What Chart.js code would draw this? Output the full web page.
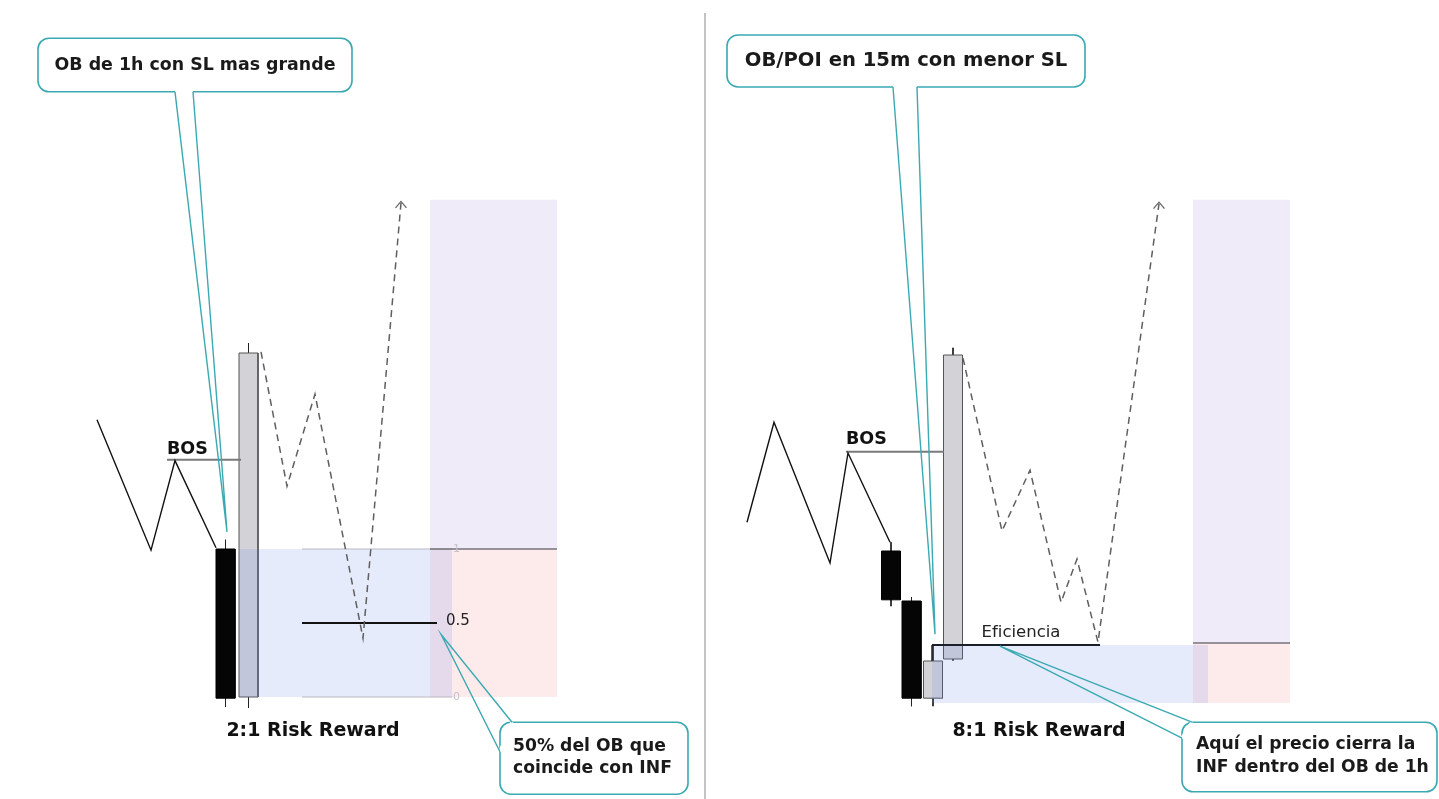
<!DOCTYPE html>
<html lang="es">
<head>
  <meta charset="UTF-8">
  <title>OB 1h vs OB 15m - Risk Reward</title>
  <script src="https://cdn.jsdelivr.net/npm/chart.js"></script>
  <style>
    html, body { margin: 0; padding: 0; background: #fff; }
    #wrap { width: 1439px; height: 799px; position: relative; }
  </style>
</head>
<body>
  <div id="wrap"><canvas id="chart"></canvas></div>

  <script>
    // eje x = tiempo (velas), eje y = precio

    // --- panel izquierdo: OB de 1h ---
    const leftSwingX = [9.7, 15.1, 17.5, 21.6];
    const leftSwingY = [47.4, 31.1, 42.3, 31.4];
    const leftBosX = [16.7, 24.1];
    const leftBosY = 42.4;

    const leftCandleX = [22.55, 24.85];
    const leftOpen  = [31.25, 12.75];
    const leftHigh  = [32.4, 57.0];
    const leftLow   = [11.5, 11.4];
    const leftClose = [12.6, 55.75];

    const leftZoneX = [23.9, 45.2];        // OB de 1h
    const leftZoneY = [31.25, 12.75];
    const leftTradeX = [43.0, 55.7];       // objetivo / entrada / stop
    const leftTradeY = [74.9, 31.25, 12.75];
    const leftFibX = [30.2, 45.2];
    const fibLevels = [1, 0.5, 0];

    const leftPathX = [26.1, 28.7, 31.5, 36.3, 40.1];
    const leftPathY = [55.9, 39.1, 50.6, 20.1, 74.5];

    // --- panel derecho: OB/POI de 15m ---
    const rightSwingX = [74.7, 77.4, 83.0, 84.8, 89.0];
    const rightSwingY = [34.6, 47.1, 29.5, 43.25, 32.1];
    const rightBosX = [84.6, 94.4];
    const rightBosY = 43.4;

    const rightCandleX = [89.1, 91.15, 93.3, 95.3];
    const rightOpen  = [31.0, 24.75, 12.6, 17.5];
    const rightHigh  = [32.1, 25.25, 19.25, 56.4];
    const rightLow   = [24.1, 11.6, 11.6, 17.3];
    const rightClose = [24.9, 12.6, 17.25, 55.5];

    const rightZoneX = [93.2, 120.8];
    const rightZoneY = [19.25, 12.0];
    const rightTradeX = [119.3, 129.0];
    const rightTradeY = [74.9, 19.5, 12.0];
    const efficiencyX = [93.2, 110.0];
    const efficiencyY = 19.25;

    const rightPathX = [96.3, 100.2, 103.0, 106.1, 107.7, 109.8, 115.9];
    const rightPathY = [55.1, 33.5, 41.1, 24.6, 30.0, 19.6, 74.4];

    const dividerX = 70.5;
    const dividerY = [98.25, 0];

    // --- textos ---
    const titles = ['OB de 1h con SL mas grande', 'OB/POI en 15m con menor SL'];
    const notesText = [['50% del OB que', 'coincide con INF'], ['Aquí el precio cierra la', 'INF dentro del OB de 1h']];
    const rrLabels = ['2:1 Risk Reward', '8:1 Risk Reward'];

    const TEAL = '#3aa9b2';
    const FONT = '"DejaVu Sans", Verdana, sans-serif';

    const datasets = [];
    function poly(xs, ys, opts) {
      datasets.push(Object.assign({
        data: xs.map((x, i) => ({ x: x, y: ys[i] })),
        borderColor: '#000',
        borderWidth: 1,
        pointRadius: 0,
        tension: 0,
        fill: false
      }, opts));
    }
    function box(xs, top, bottom, color) {
      poly(xs, [top, top], { borderWidth: 0, borderColor: 'rgba(0,0,0,0)', backgroundColor: color, fill: { value: bottom } });
    }
    function candles(xs, open, high, low, close) {
      xs.forEach((x, i) => {
        const bull = close[i] > open[i];
        const top = Math.max(open[i], close[i]);
        const bot = Math.min(open[i], close[i]);
        const w = 0.95;
        poly([x, x], [high[i], low[i]], { borderColor: '#222', borderWidth: 1 });
        box([x - w, x + w], top, bot, bull ? '#d3d3d7' : '#050505');
        poly([x - w, x - w, x + w, x + w, x - w], [bot, top, top, bot, bot],
          { borderColor: bull ? '#555' : '#000', borderWidth: 1 });
      });
    }

    // orden de pintado: primero el fondo
    poly([dividerX, dividerX], dividerY, { borderColor: '#b0b0b0', borderWidth: 1.5 });

    box(leftTradeX, leftTradeY[0], leftTradeY[1], 'rgba(150,110,210,0.14)');
    box(leftTradeX, leftTradeY[1], leftTradeY[2], 'rgba(240,100,100,0.13)');
    box(rightTradeX, rightTradeY[0], rightTradeY[1], 'rgba(150,110,210,0.14)');
    box(rightTradeX, rightTradeY[1], rightTradeY[2], 'rgba(240,100,100,0.13)');

    candles(leftCandleX, leftOpen, leftHigh, leftLow, leftClose);
    candles(rightCandleX, rightOpen, rightHigh, rightLow, rightClose);

    box(leftZoneX, leftZoneY[0], leftZoneY[1], 'rgba(100,130,235,0.16)');
    box(rightZoneX, rightZoneY[0], rightZoneY[1], 'rgba(100,130,235,0.16)');

    // fibonacci sobre el OB de 1h
    fibLevels.forEach(lv => {
      const p = leftZoneY[1] + lv * (leftZoneY[0] - leftZoneY[1]);
      if (lv === 0.5) {
        poly([leftFibX[0], 43.7], [p, p], { borderColor: '#111', borderWidth: 2 });
      } else {
        poly(leftFibX, [p, p], { borderColor: '#b8b8c0', borderWidth: 1 });
      }
    });

    poly(leftTradeX, [leftTradeY[1], leftTradeY[1]], { borderColor: '#77737c', borderWidth: 1.5 });
    poly(rightTradeX, [rightTradeY[1], rightTradeY[1]], { borderColor: '#77737c', borderWidth: 1.5 });

    poly(leftBosX, [leftBosY, leftBosY], { borderColor: '#7a7a7a', borderWidth: 2 });
    poly(rightBosX, [rightBosY, rightBosY], { borderColor: '#7a7a7a', borderWidth: 2 });

    poly(leftSwingX, leftSwingY, { borderColor: '#111', borderWidth: 1.4 });
    poly(rightSwingX, rightSwingY, { borderColor: '#111', borderWidth: 1.4 });

    poly([efficiencyX[0], efficiencyX[0]], [rightClose[2], efficiencyY], { borderColor: '#222', borderWidth: 1.5 });
    poly(efficiencyX, [efficiencyY, efficiencyY], { borderColor: '#1b1f2a', borderWidth: 2 });

    [[leftPathX, leftPathY], [rightPathX, rightPathY]].forEach(([xs, ys]) => {
      poly(xs, ys, { borderColor: '#5f5f5f', borderWidth: 1.5, borderDash: [7, 5] });
      const ax = xs[xs.length - 1], ay = ys[ys.length - 1] + 0.2;
      poly([ax - 0.55, ax, ax + 0.55], [ay - 0.8, ay, ay - 0.8], { borderColor: '#666', borderWidth: 1.3 });
    });

    datasets.forEach((d, i) => { d.order = datasets.length - i; });

    // textos y globos
    const labels = [
      { text: 'BOS', x: 16.7, y: 43.75, font: 'bold 17.5px ' + FONT, align: 'left' },
      { text: 'BOS', x: 84.6, y: 44.9, font: 'bold 17.5px ' + FONT, align: 'left' },
      { text: '0.5', x: 44.6, y: 22.25, font: '15px ' + FONT, align: 'left', color: '#222' },
      { text: '1', x: 45.3, y: 31.25, font: '11px ' + FONT, align: 'left', color: '#c4c0cc' },
      { text: '0', x: 45.3, y: 12.75, font: '11px ' + FONT, align: 'left', color: '#c4c0cc' },
      { text: 'Eficiencia', x: 102.1, y: 20.8, font: '16.5px ' + FONT, align: 'center', color: '#222' },
      { text: rrLabels[0], x: 31.3, y: 8.5, font: 'bold 19px ' + FONT, align: 'center' },
      { text: rrLabels[1], x: 103.9, y: 8.5, font: 'bold 19px ' + FONT, align: 'center' }
    ];

    const callouts = [
      { lines: [titles[0]], size: 17.4, box: [3.8, 35.2, 95.1, 88.4], tip: [22.7, 33.4], base: [[17.5, 88.4], [19.3, 88.4]], align: 'center', tx: 19.5, ty: [91.7] },
      { lines: [titles[1]], size: 19.6, box: [72.7, 108.5, 95.5, 89.0], tip: [93.5, 20.6], base: [[89.3, 89.0], [91.7, 89.0]], align: 'center', tx: 90.6, ty: [92.25] },
      { lines: notesText[0], size: 17.2, box: [50.0, 68.8, 9.6, 0.6], tip: [44.1, 20.6], base: [[50.0, 5.9], [51.2, 9.6]], align: 'left', tx: 51.3, ty: [6.5, 3.75] },
      { lines: notesText[1], size: 17.2, box: [118.2, 143.7, 9.6, 0.9], tip: [100.0, 19.1], base: [[118.2, 7.6], [119.2, 9.6]], align: 'left', tx: 119.6, ty: [6.75, 3.9] }
    ];

    function roundRect(ctx, x, y, w, h, r) {
      ctx.beginPath();
      ctx.moveTo(x + r, y);
      ctx.lineTo(x + w - r, y);
      ctx.arcTo(x + w, y, x + w, y + r, r);
      ctx.lineTo(x + w, y + h - r);
      ctx.arcTo(x + w, y + h, x + w - r, y + h, r);
      ctx.lineTo(x + r, y + h);
      ctx.arcTo(x, y + h, x, y + h - r, r);
      ctx.lineTo(x, y + r);
      ctx.arcTo(x, y, x + r, y, r);
      ctx.closePath();
    }

    const notesPlugin = {
      id: 'notes',
      afterDatasetsDraw(chart) {
        const ctx = chart.ctx;
        const sx = chart.scales.x, sy = chart.scales.y;
        const px = v => sx.getPixelForValue(v);
        const py = v => sy.getPixelForValue(v);
        ctx.save();
        ctx.textBaseline = 'middle';

        labels.forEach(l => {
          ctx.font = l.font;
          ctx.fillStyle = l.color || '#111';
          ctx.textAlign = l.align;
          ctx.fillText(l.text, px(l.x), py(l.y));
        });

        callouts.forEach(c => {
          const x1 = px(c.box[0]), x2 = px(c.box[1]);
          const y1 = py(c.box[2]), y2 = py(c.box[3]);
          roundRect(ctx, x1, y1, x2 - x1, y2 - y1, 11);
          ctx.fillStyle = '#fff';
          ctx.fill();
          ctx.lineWidth = 1.6;
          ctx.strokeStyle = TEAL;
          ctx.stroke();

          const b0 = [px(c.base[0][0]), py(c.base[0][1])];
          const b1 = [px(c.base[1][0]), py(c.base[1][1])];
          const tip = [px(c.tip[0]), py(c.tip[1])];
          ctx.beginPath();
          ctx.moveTo(b0[0], b0[1]);
          ctx.lineTo(b1[0], b1[1]);
          ctx.strokeStyle = '#fff';
          ctx.lineWidth = 3.5;
          ctx.stroke();

          ctx.beginPath();
          ctx.moveTo(b0[0], b0[1]);
          ctx.lineTo(tip[0], tip[1]);
          ctx.lineTo(b1[0], b1[1]);
          ctx.strokeStyle = TEAL;
          ctx.lineWidth = 1.4;
          ctx.lineJoin = 'miter';
          ctx.stroke();

          ctx.font = 'bold ' + c.size + 'px ' + FONT;
          ctx.fillStyle = '#1a1a1a';
          ctx.textAlign = c.align;
          c.lines.forEach((t, i) => ctx.fillText(t, px(c.tx), py(c.ty[i])));
        });
        ctx.restore();
      }
    };

    new Chart(document.getElementById('chart'), {
      type: 'line',
      data: { datasets: datasets },
      options: {
        responsive: true,
        maintainAspectRatio: false,
        animation: false,
        events: [],
        layout: { padding: 0 },
        plugins: {
          legend: { display: false },
          tooltip: { enabled: false }
        },
        scales: {
          x: { type: 'linear', min: 0, max: 143.9, display: false },
          y: { type: 'linear', min: 0, max: 99.875, display: false }
        }
      },
      plugins: [notesPlugin]
    });
  </script>
</body>
</html>
